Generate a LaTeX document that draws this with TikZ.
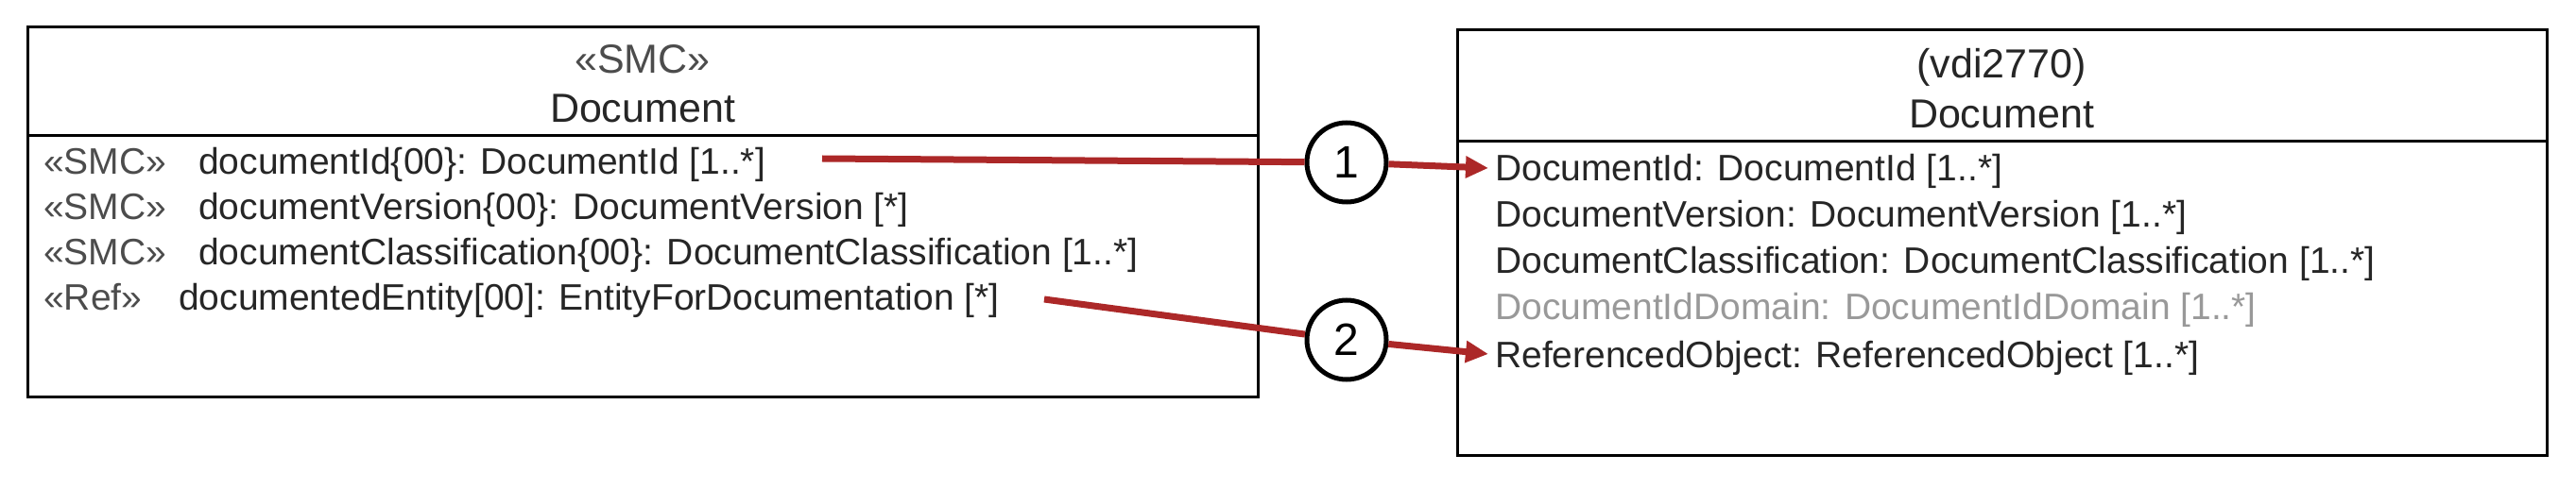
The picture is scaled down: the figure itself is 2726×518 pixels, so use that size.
\documentclass[tikz,border=0pt]{standalone}
\usepackage{fontspec}
\setmainfont{Liberation Sans}
\usetikzlibrary{arrows.meta}
\definecolor{arr}{RGB}{172,40,40}
\begin{document}
\begin{tikzpicture}[x=1pt,y=-1pt,
  box/.style={draw=black,line width=3pt},
  txt/.style={inner sep=0pt,anchor=base west,text=black!85,font=\fontsize{39}{44}\selectfont},
  hdr/.style={inner sep=0pt,anchor=base,text=black!85,font=\fontsize{43}{48}\selectfont},
  num/.style={circle,draw=black,line width=5pt,minimum size=84pt,inner sep=0pt,fill=white,font=\fontsize{48}{52}\selectfont},
  conn/.style={draw=arr,line width=7pt},
  gray/.style={text=black!40}]
\useasboundingbox (0,0) rectangle (2726,518);
% left box
\draw[box] (29,29) rectangle (1331,421);
\draw[box] (29,144) -- (1331,144);
\node[hdr,text=black!70] (lh1) at (680,78) {«SMC»};
\node[hdr] (lh2) at (680,130) {Document};
\node[txt,text=black!70] (ls1) at (46,185) {«SMC»};
\node[txt] (la1) at (210,185) {documentId\{00\}: DocumentId [1..*]};
\node[txt,text=black!70] (ls2) at (46,233) {«SMC»};
\node[txt] (la2) at (210,233) {documentVersion\{00\}: DocumentVersion [*]};
\node[txt,text=black!70] (ls3) at (46,281) {«SMC»};
\node[txt] (la3) at (210,281) {documentClassification\{00\}: DocumentClassification [1..*]};
\node[txt,text=black!70] (ls4) at (46,329) {«Ref»};
\node[txt] (la4) at (189,329) {documentedEntity[00]: EntityForDocumentation [*]};
% right box
\draw[box] (1542,32) rectangle (2695,482);
\draw[box] (1542,150) -- (2695,150);
\node[hdr] (rh1) at (2118,83) {(vdi2770)};
\node[hdr] (rh2) at (2118,136) {Document};
\node[txt] (r1) at (1582,192) {DocumentId: DocumentId [1..*]};
\node[txt] (r2) at (1582,241) {DocumentVersion: DocumentVersion [1..*]};
\node[txt] (r3) at (1582,290) {DocumentClassification: DocumentClassification [1..*]};
\node[txt,gray] (r4) at (1582,339) {DocumentIdDomain: DocumentIdDomain [1..*]};
\node[txt] (r5) at (1582,390) {ReferencedObject: ReferencedObject [1..*]};
% connectors
\coordinate (s1) at (870,168);
\coordinate (s2) at (1105,317);
\coordinate (t1) at (1575,178);
\coordinate (t2) at (1575,375);
\node[num] (c1) at (1425,172) {1};
\node[num] (c2) at (1425,360) {2};
\draw[conn] (s1) -- (c1);
\draw[conn] (s2) -- (c2);
\draw[conn,-{Triangle[length=24pt,width=22pt]}] (c1) -- (t1);
\draw[conn,-{Triangle[length=24pt,width=22pt]}] (c2) -- (t2);
\end{tikzpicture}
\end{document}
